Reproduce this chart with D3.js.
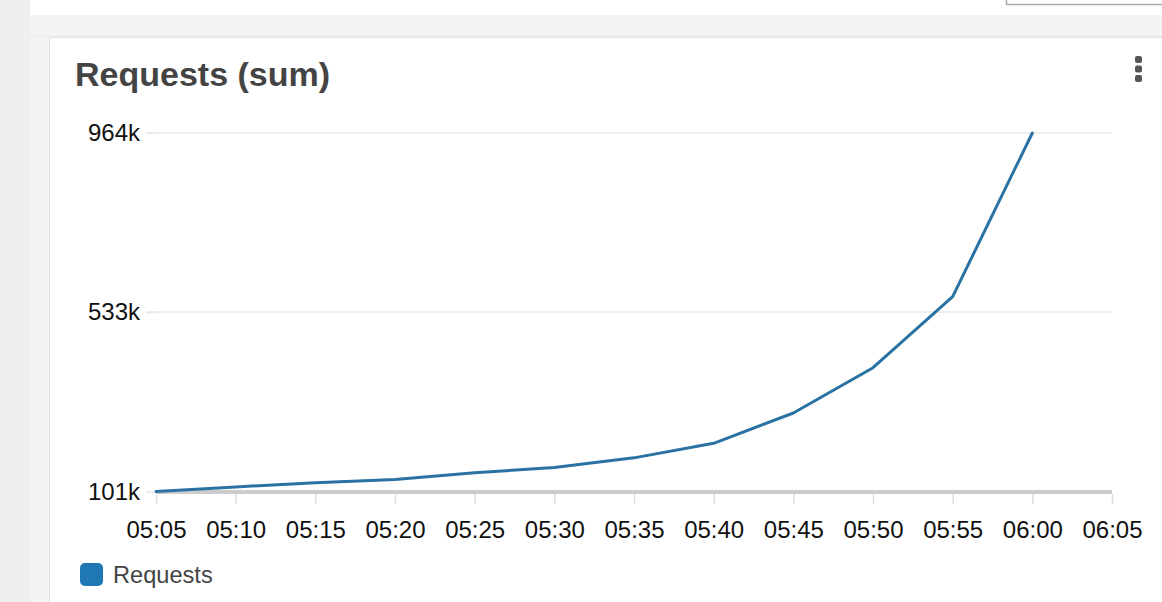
<!DOCTYPE html>
<html>
<head>
<meta charset="utf-8">
<script src="https://cdn.jsdelivr.net/npm/d3@7"></script>
<style>
  html, body { margin: 0; padding: 0; background: #f2f3f3; overflow: hidden; }
  svg { display: block; font-family: "Liberation Sans", Arial, Helvetica, sans-serif; }
</style>
</head>
<body>
<svg id="chart" width="1162" height="602"></svg>
<script>
// ---- data ----
const chartTitle = "Requests (sum)";
const seriesName = "Requests";
const times = ["05:05","05:10","05:15","05:20","05:25","05:30","05:35","05:40","05:45","05:50","05:55","06:00"];
const requests = [101000, 112000, 122000, 130000, 146000, 159000, 182000, 217000, 290000, 399000, 570000, 964000];
const yTickValues = [101000, 533000, 964000];
const xDomain = ["05:05", "06:05"];

// ---- helpers ----
const parse = d3.timeParse("%H:%M");
const points = times.map((t, i) => ({ t: parse(t), v: requests[i] }));

const svg = d3.select("#chart");
const W = 1162, H = 602;

// page chrome
svg.append("rect").attr("x", 0).attr("y", 0).attr("width", W).attr("height", H).attr("fill", "#f2f3f3");
svg.append("rect").attr("x", 0).attr("y", 0).attr("width", 28).attr("height", H).attr("fill", "#eef0f0");
svg.append("line").attr("x1", 29).attr("x2", 29).attr("y1", 0).attr("y2", H).attr("stroke", "#e6e8e8").attr("stroke-width", 1);
svg.append("rect").attr("x", 30).attr("y", 0).attr("width", W - 30).attr("height", 15).attr("fill", "#ffffff");
svg.append("line").attr("x1", 30).attr("x2", W).attr("y1", 36).attr("y2", 36).attr("stroke", "#e9ebeb");
svg.append("rect").attr("x", 1006.5).attr("y", -3).attr("width", 200).attr("height", 7.5)
  .attr("fill", "#ffffff").attr("stroke", "#aaaaaa").attr("stroke-width", 1.5);

// card
svg.append("rect").attr("x", 49.5).attr("y", 37.5).attr("width", 1200).attr("height", 700)
  .attr("fill", "#ffffff").attr("stroke", "#e1e3e3").attr("stroke-width", 1);

// title
svg.append("text").attr("x", 75).attr("y", 86).attr("font-size", 34).attr("font-weight", "bold")
  .attr("fill", "#444444").text(chartTitle);

// menu dots
svg.selectAll("rect.dot").data([56, 65.5, 75]).enter().append("rect").attr("class", "dot")
  .attr("x", 1135).attr("y", d => d).attr("width", 7).attr("height", 7).attr("rx", 2)
  .attr("fill", "#555555");

// scales
const x = d3.scaleTime().domain(xDomain.map(parse)).range([156, 1112]);
const y = d3.scaleLinear().domain([yTickValues[0], yTickValues[2]]).range([491.5, 133]);

// grid lines
svg.append("g").selectAll("line").data(yTickValues.slice(1)).enter().append("line")
  .attr("x1", 146).attr("x2", 1112)
  .attr("y1", d => y(d)).attr("y2", d => y(d))
  .attr("stroke", "#e8e8e8").attr("stroke-width", 1.5);

// y axis labels
const fmtK = d => Math.round(d / 1000) + "k";
const yAxis = d3.axisLeft(y).tickValues(yTickValues).tickFormat(fmtK).tickSize(8).tickPadding(6);
const yg = svg.append("g").attr("transform", "translate(154,0)").call(yAxis);
yg.select(".domain").remove();
yg.selectAll(".tick line").attr("stroke", "#e8e8e8").attr("stroke-width", 1.5);
yg.selectAll(".tick text").attr("font-size", 24).attr("fill", "#111111")
  .attr("font-family", "'Liberation Sans', Arial, sans-serif");

// baseline
svg.append("line").attr("x1", 156).attr("x2", 1112).attr("y1", y(yTickValues[0]) + 0.5).attr("y2", y(yTickValues[0]) + 0.5)
  .attr("stroke", "#cccccc").attr("stroke-width", 4);

// x axis
const xAxis = d3.axisBottom(x).ticks(d3.timeMinute.every(5)).tickFormat(d3.timeFormat("%H:%M"))
  .tickSize(10).tickPadding(17);
const xg = svg.append("g").attr("transform", "translate(0,494)").call(xAxis);
xg.select(".domain").remove();
xg.selectAll(".tick line").attr("stroke", "#dddddd").attr("stroke-width", 1.5);
xg.selectAll(".tick text").attr("font-size", 24).attr("fill", "#111111")
  .attr("font-family", "'Liberation Sans', Arial, sans-serif");

// line
const line = d3.line().x(d => x(d.t)).y(d => y(d.v));
svg.append("path").datum(points).attr("d", line)
  .attr("fill", "none").attr("stroke", "#2a72a3").attr("stroke-width", 3)
  .attr("stroke-linejoin", "round").attr("stroke-linecap", "round");

// legend
svg.append("rect").attr("x", 80).attr("y", 563).attr("width", 23).attr("height", 23).attr("rx", 5)
  .attr("fill", "#1f77b4");
svg.append("text").attr("x", 113).attr("y", 583).attr("font-size", 23.6).attr("fill", "#444444").text(seriesName);
</script>
</body>
</html>
